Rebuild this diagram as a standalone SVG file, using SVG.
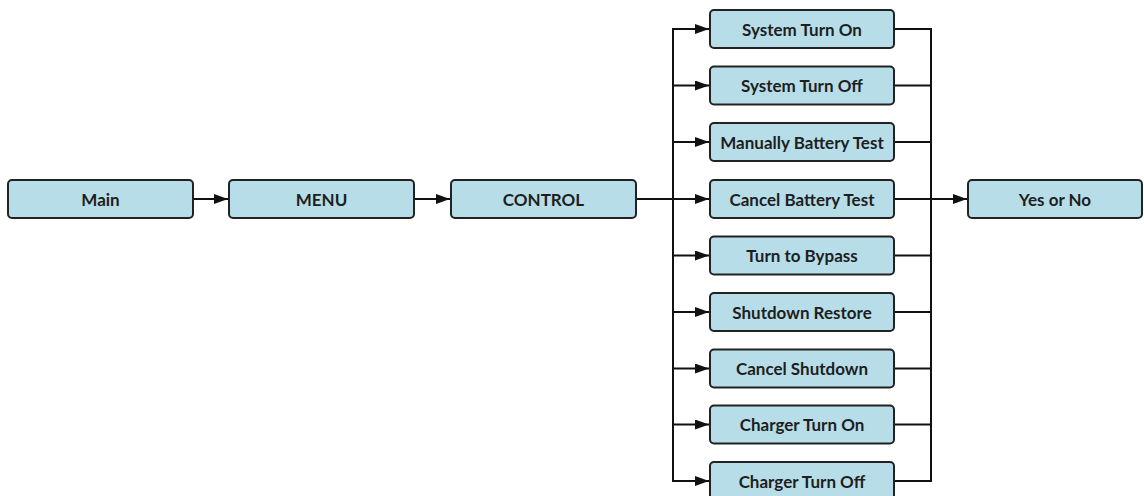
<svg xmlns="http://www.w3.org/2000/svg" width="1144" height="496" viewBox="0 0 1144 496">
<style>
.box{fill:#b7dde8;stroke:#222;stroke-width:2}
.lbl{font-family:Lato,"Open Sans",sans-serif;font-weight:bold;font-size:17px;fill:#1e1e1e;text-anchor:middle;dominant-baseline:central}
.ln{fill:none;stroke:#111;stroke-width:2}
.ar{fill:none;stroke:#111;stroke-width:2;marker-end:url(#ah)}
</style>
<defs>
<marker id="ah" markerWidth="14" markerHeight="10" refX="14" refY="5" orient="auto" markerUnits="userSpaceOnUse">
<path d="M0,0 L14,5 L0,10 z" fill="#111"/>
</marker>
</defs>
<rect width="1144" height="496" fill="#fff"/>
<g id="connectors">
<path class="ar" d="M193,199 H228"/>
<path class="ar" d="M414,199 H450"/>
<path class="ln" d="M636,199 H673"/>
<path class="ln" d="M673,29 V481"/>
<path class="ar" d="M672,29 H709"/>
<path class="ar" d="M673,85.5 H709"/>
<path class="ar" d="M673,142 H709"/>
<path class="ar" d="M673,199 H709"/>
<path class="ar" d="M673,255.5 H709"/>
<path class="ar" d="M673,312 H709"/>
<path class="ar" d="M673,368.5 H709"/>
<path class="ar" d="M673,424.5 H709"/>
<path class="ar" d="M672,481 H709"/>
<path class="ln" d="M894,29 H931 V481 H894"/>
<path class="ln" d="M894,85.5 H931"/>
<path class="ln" d="M894,142 H931"/>
<path class="ln" d="M894,255.5 H931"/>
<path class="ln" d="M894,312 H931"/>
<path class="ln" d="M894,368.5 H931"/>
<path class="ln" d="M894,424.5 H931"/>
<path class="ar" d="M894,199 H967"/>
</g>
<g id="main"><rect class="box" x="8" y="180" width="185" height="38" rx="4"/><text class="lbl" x="100.5" y="199">Main</text></g>
<g id="menu"><rect class="box" x="229" y="180" width="185" height="38" rx="4"/><text class="lbl" x="321.5" y="199">MENU</text></g>
<g id="control"><rect class="box" x="451" y="180" width="185" height="38" rx="4"/><text class="lbl" x="543.5" y="199">CONTROL</text></g>
<g id="sys-on"><rect class="box" x="710" y="10" width="184" height="38" rx="4"/><text class="lbl" x="802" y="29">System Turn On</text></g>
<g id="sys-off"><rect class="box" x="710" y="66.5" width="184" height="38" rx="4"/><text class="lbl" x="802" y="85.5">System Turn Off</text></g>
<g id="man-bat"><rect class="box" x="710" y="123" width="184" height="38" rx="4"/><text class="lbl" x="802" y="142">Manually Battery Test</text></g>
<g id="cancel-bat"><rect class="box" x="710" y="180" width="184" height="38" rx="4"/><text class="lbl" x="802" y="199">Cancel Battery Test</text></g>
<g id="bypass"><rect class="box" x="710" y="236.5" width="184" height="38" rx="4"/><text class="lbl" x="802" y="255.5">Turn to Bypass</text></g>
<g id="shut-restore"><rect class="box" x="710" y="293" width="184" height="38" rx="4"/><text class="lbl" x="802" y="312">Shutdown Restore</text></g>
<g id="cancel-shut"><rect class="box" x="710" y="349.5" width="184" height="38" rx="4"/><text class="lbl" x="802" y="368.5">Cancel Shutdown</text></g>
<g id="chg-on"><rect class="box" x="710" y="405.5" width="184" height="38" rx="4"/><text class="lbl" x="802" y="424.5">Charger Turn On</text></g>
<g id="chg-off"><rect class="box" x="710" y="462" width="184" height="38" rx="4"/><text class="lbl" x="802" y="481">Charger Turn Off</text></g>
<g id="yesno"><rect class="box" x="968" y="180" width="174" height="38" rx="4"/><text class="lbl" x="1055" y="199">Yes or No</text></g>
</svg>
